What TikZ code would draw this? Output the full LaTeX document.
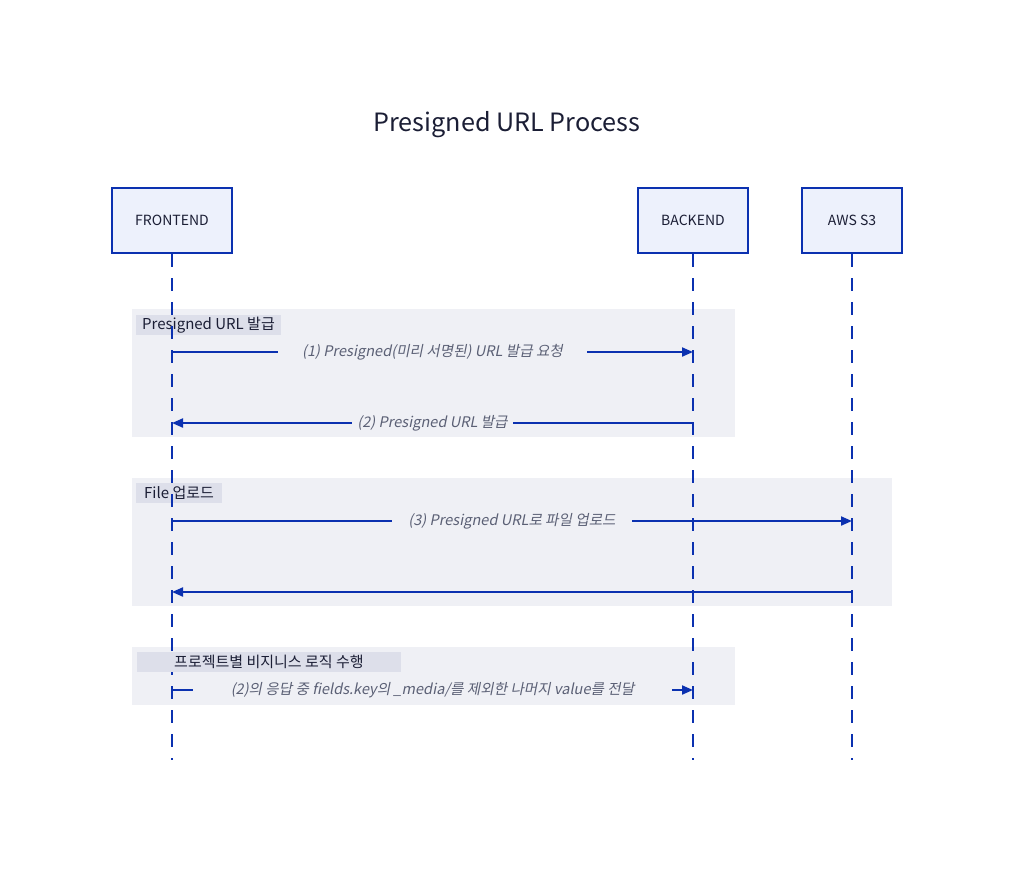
\documentclass[tikz,border=0pt]{standalone}
\usepackage{fontspec}
\setmainfont{Noto Sans CJK KR}
\newfontfamily\slfont[FakeSlant=0.2]{Noto Sans CJK KR}
\usetikzlibrary{arrows.meta}
\definecolor{lineblue}{HTML}{0B31B0}
\definecolor{boxfill}{HTML}{EDF1FC}
\definecolor{groupbg}{HTML}{EFF0F5}
\definecolor{labelbg}{HTML}{DDDFEA}
\definecolor{msgtext}{HTML}{5B6075}
\definecolor{darktext}{HTML}{1B1E35}
\begin{document}
\begin{tikzpicture}[x=1pt,y=-1pt,
  actor/.style={draw=lineblue, line width=2pt, fill=boxfill, minimum height=65pt, inner sep=0pt, font=\fontsize{14}{16}\selectfont, text=darktext},
  lifeline/.style={draw=lineblue, line width=2pt, dash pattern=on 13pt off 11pt},
  msg/.style={draw=lineblue, line width=2pt, -{Triangle[length=11pt,width=9pt]}},
  msglabel/.style={fill=groupbg, text=msgtext, font=\slfont\fontsize{14.6}{17}\selectfont, inner ysep=2pt},
  grouplabel/.style={fill=labelbg, text=darktext, font=\fontsize{15}{17}\selectfont, anchor=west, minimum height=20pt, inner ysep=0pt}]
\useasboundingbox (0,0) rectangle (1014,873);
\fill[white] (0,0) rectangle (1014,873);

\node[text=darktext, font=\fontsize{25.2}{30}\selectfont] (title) at (507,125) {Presigned URL Process};

% groups
\fill[groupbg] (132,309) rectangle (735,437);
\fill[groupbg] (132,478) rectangle (892,606);
\fill[groupbg] (132,647) rectangle (735,705);
\node[grouplabel, inner xsep=6pt] (g1) at (136,325) {Presigned URL 발급};
\node[grouplabel, inner xsep=8pt] (g2) at (136,493) {File 업로드};

% actors
\node[actor, minimum width=120pt] (FE) at (172,220.5) {FRONTEND};
\node[actor, minimum width=110pt] (BE) at (693,220.5) {BACKEND};
\node[actor, minimum width=100pt] (S3) at (852,220.5) {AWS S3};

\coordinate (FEend) at (172,760);
\coordinate (BEend) at (693,760);
\coordinate (S3end) at (852,760);
\draw[lifeline] (FE.south) -- (FEend);
\draw[lifeline] (BE.south) -- (BEend);
\draw[lifeline] (S3.south) -- (S3end);

\node[grouplabel, inner xsep=37pt] (g3) at (137,662) {프로젝트별 비지니스 로직 수행};

% messages
\draw[msg] (FE |- 0,352) -- (BE |- 0,352)
  node[midway, msglabel, inner xsep=24pt] (l1) {(1) Presigned(미리 서명된) URL 발급 요청};
\draw[msg] (BE |- 0,423) -- (FE |- 0,423)
  node[midway, msglabel, inner xsep=5pt] (l2) {(2) Presigned URL 발급};
\draw[msg] (FE |- 0,521) -- (S3 |- 0,521)
  node[midway, msglabel, inner xsep=16pt] (l3) {(3) Presigned URL로 파일 업로드};
\draw[msg] (S3 |- 0,592) -- (FE |- 0,592);
\draw[msg] (FE |- 0,690) -- (BE |- 0,690)
  node[midway, msglabel, inner xsep=38pt] (l5) {(2)의 응답 중 fields.key의 \_media/를 제외한 나머지 value를 전달};
\end{tikzpicture}
\end{document}
